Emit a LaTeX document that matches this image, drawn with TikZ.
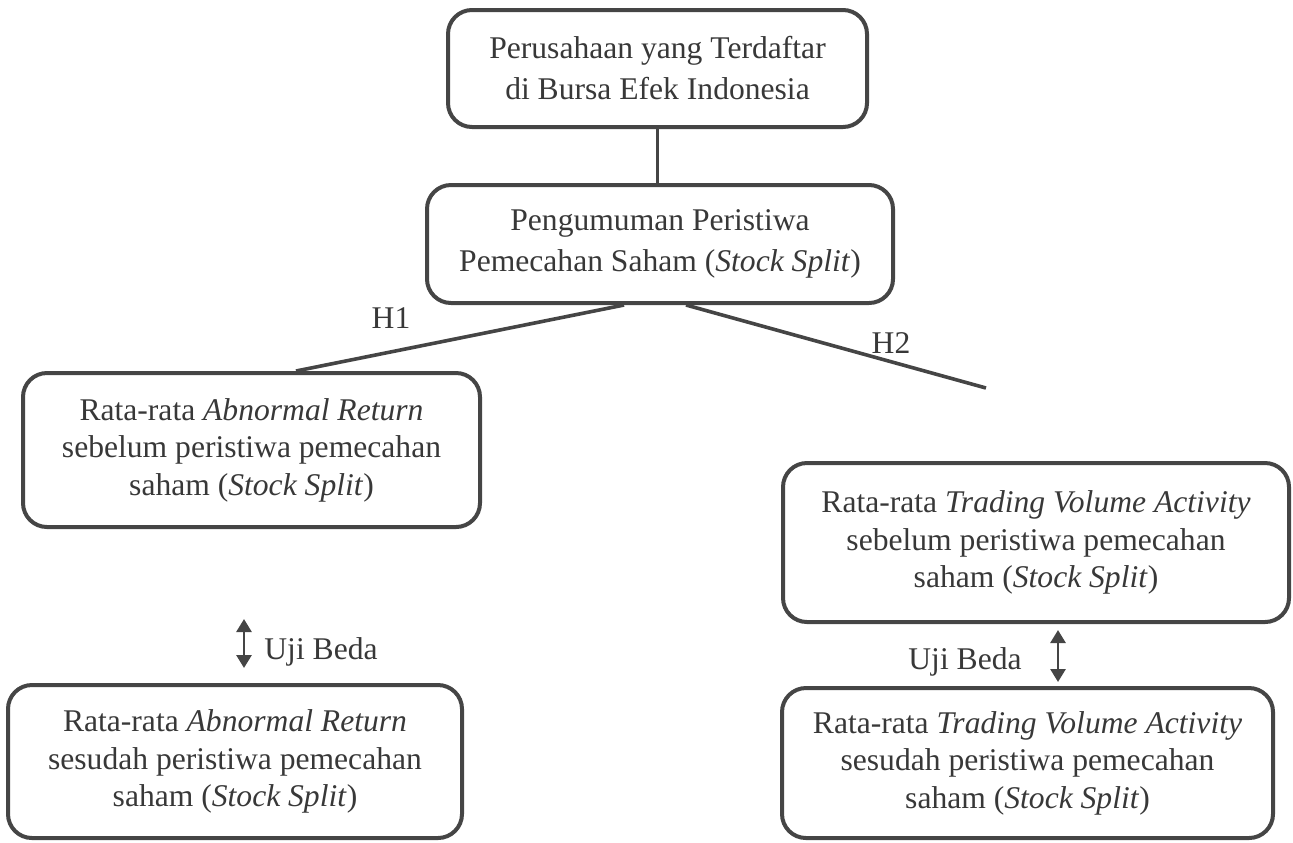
\documentclass[tikz,border=0pt]{standalone}
\usepackage{fontspec}
\setmainfont{Liberation Serif}
\usetikzlibrary{arrows.meta}
\definecolor{ln}{HTML}{454545}
\definecolor{tx}{HTML}{383838}
\begin{document}
\begin{tikzpicture}[x=0.5pt,y=-0.5pt,
  box/.style={draw=ln, line width=2pt, rounded corners=12pt, align=center, text=tx, inner sep=0pt, font=\fontsize{15.8}{18.8}\selectfont},
  twoline/.style={font=\fontsize{15.8}{20.5}\selectfont},
  link/.style={draw=ln, line width=1.8pt},
  dbl/.style={draw=ln, line width=1.4pt, {Triangle[width=7.5pt,length=6.5pt]}-{Triangle[width=7.5pt,length=6.5pt]}},
  lbl/.style={text=tx, inner sep=0pt, font=\fontsize{15.8}{18.8}\selectfont}]
\useasboundingbox (0,0) rectangle (1293,842);

\node[box, twoline, minimum width=209.5pt, minimum height=58.5pt] (top) at (657.5,68.5)
  {Perusahaan yang Terdaftar\\di Bursa Efek Indonesia};
\node[box, twoline, minimum width=233pt, minimum height=59pt] (ann) at (660,244)
  {Pengumuman Peristiwa\\Pemecahan Saham (\textit{Stock Split})};
\node[box, minimum width=228.5pt, minimum height=77pt] (arb) at (251.5,450)
  {Rata-rata \textit{Abnormal Return}\\sebelum peristiwa pemecahan\\saham (\textit{Stock Split})};
\node[box, minimum width=227pt, minimum height=76.5pt] (ara) at (235,761.5)
  {Rata-rata \textit{Abnormal Return}\\sesudah peristiwa pemecahan\\saham (\textit{Stock Split})};
\node[box, minimum width=253pt, minimum height=79.5pt] (tvb) at (1036,542.5)
  {Rata-rata \textit{Trading Volume Activity}\\sebelum peristiwa pemecahan\\saham (\textit{Stock Split})};
\node[box, minimum width=245.5pt, minimum height=75pt] (tva) at (1027.5,763)
  {Rata-rata \textit{Trading Volume Activity}\\sesudah peristiwa pemecahan\\saham (\textit{Stock Split})};

% connectors
\draw[link] (top.south) -- (top.south |- ann.north);
\draw[link] ([xshift=-18pt]ann.south) -- ([xshift=22.25pt]arb.north);
\coordinate (h2end) at (986,388);
\draw[link] ([xshift=13pt]ann.south) -- (h2end);
\node[lbl] (h1) at (391,318) {H1};
\node[lbl] (h2) at (891,343) {H2};

% difference tests
\coordinate (la1) at (244,619);
\coordinate (la2) at (244,668);
\draw[dbl] (la1) -- (la2);
\node[lbl, anchor=west] (ujil) at (264,652) {Uji Beda};
\coordinate (ra1) at (1058,630);
\coordinate (ra2) at (1058,682);
\draw[dbl] (ra1) -- (ra2);
\node[lbl, anchor=east] (ujir) at (1022,662) {Uji Beda};
\end{tikzpicture}
\end{document}
